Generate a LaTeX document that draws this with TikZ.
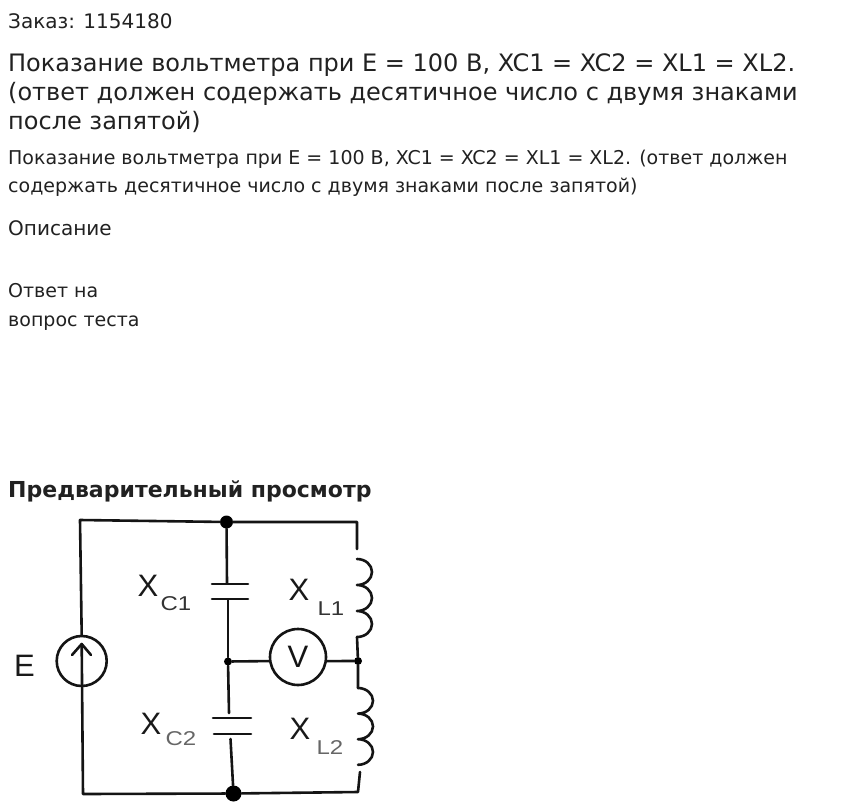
\documentclass[tikz,border=0pt]{standalone}
\usepackage{fontspec}
\setmainfont{DejaVu Sans}
\newfontfamily\schem{Liberation Sans}
\tikzset{
 txt/.style={anchor=base west,inner sep=0pt,text=black!87},
 body/.style={txt,font=\fontsize{19}{22}\selectfont},
 bodybig/.style={txt,font=\fontsize{20}{22}\selectfont},
 head/.style={txt,font=\fontsize{24}{28}\selectfont},
 wire/.style={line width=2.6pt,line cap=round,line join=round,black!92},
 bigdot/.style={circle,fill=black,inner sep=0pt,minimum size=13pt},
 hugedot/.style={circle,fill=black,inner sep=0pt,minimum size=16pt},
 smalldot/.style={circle,fill=black,inner sep=0pt,minimum size=8pt},
 lab/.style={inner sep=0pt,font=\schem\fontsize{31}{32}\selectfont,text=black!90},
 sublab/.style={inner sep=0pt,font=\schem\fontsize{20}{22}\selectfont,text=black!80},
 faintlab/.style={sublab,text=black!60},
}
\begin{document}
\begin{tikzpicture}[x=1pt,y=-1pt]
\useasboundingbox (0,0) rectangle (847,812);
\fill[white] (0,0) rectangle (847,812);
\node[bodybig] (t1) at (8,28) {Заказ: 1154180};
\node[head] (t2) at (8,71) {Показание вольтметра при E = 100 В, XC1 = XC2 = XL1 = XL2.};
\node[head] (t3) at (8,100) {(ответ должен содержать десятичное число с двумя знаками};
\node[head] (t4) at (8,129) {после запятой)};
\node[body] (t5) at (8,164) {Показание вольтметра при E = 100 В, XC1 = XC2 = XL1 = XL2. (ответ должен};
\node[body] (t6) at (8,192) {содержать десятичное число с двумя знаками после запятой)};
\node[bodybig] (t7) at (8,235) {Описание};
\node[body] (t8) at (8,297) {Ответ на};
\node[body] (t9) at (8,326) {вопрос теста};
\node[body,font=\bfseries\fontsize{22}{24}\selectfont] (t10) at (8,497) {Предварительный просмотр};
% junctions
\node[bigdot] (top) at (226.5,522) {};
\node[hugedot] (bot) at (233.5,793.5) {};
\node[smalldot] (mid) at (228,661.5) {};
\node[smalldot] (midr) at (358,661) {};
\node[draw,circle,line width=2.6pt,minimum size=50pt,inner sep=0pt,black!92] (src) at (81.7,661) {};
\node[draw,circle,line width=2.6pt,minimum size=56pt,inner sep=0pt,black!92,font=\schem\fontsize{31}{32}\selectfont] (vm) at (298,657) {V};
\coordinate (tl) at (80,520);
\coordinate (tr) at (357,522);
\coordinate (bl) at (83,794);
\coordinate (br) at (358,792);
\coordinate (l1top) at (357,559);
\coordinate (l1bot) at (357,637);
\coordinate (l2top) at (358,688);
\coordinate (l2bot) at (358,765);
\draw[wire] (src.north) -- (tl) -- (top) -- (tr) -- (357,549);
\draw[wire] (81.7,645) -- (bl) -- (bot) -- (br) -- (360,772);
% source arrow
\draw[wire] (72,655) -- (81.7,644) -- (91,655);
% caps
\draw[wire] (top) -- (227,583);
\draw[wire] (212,584) -- (248,584);
\draw[wire] (212,599) -- (248,599);
\draw[wire] (228,600) -- (mid);
\draw[wire] (mid) -- (229,713);
\draw[wire] (213,718) -- (251,718);
\draw[wire] (214,734) -- (251,734);
\draw[wire] (230.5,739) -- (bot);
% voltmeter
\draw[wire] (mid) -- (vm.188);
\draw[wire] (vm.-8) -- (midr);
% inductors
\draw[wire] (l1top) arc (-90:90:15 and 13) arc (-90:90:15 and 13) arc (-90:90:15 and 13);
\draw[wire] (l1bot) -- (midr) -- (l2top);
\draw[wire] (l2top) arc (-90:90:15 and 12.8) arc (-90:90:15 and 12.8) arc (-90:90:15 and 12.8);
% labels
\node[lab] (e) at (24.5,666) {E};
\node[lab] (xc1) at (148,586) {X};
\node[sublab] (c1) at (176,604) {\scalebox{1.2}[1]{C1}};
\node[lab] (xl1) at (299,590) {X};
\node[sublab] (l1) at (331,609) {\scalebox{1.2}[1]{L1}};
\node[lab] (xc2) at (151,724) {X};
\node[faintlab] (c2) at (181,739) {\scalebox{1.2}[1]{C2}};
\node[lab] (xl2) at (300,729) {X};
\node[faintlab] (l2) at (330,748) {\scalebox{1.2}[1]{L2}};
\end{tikzpicture}
\end{document}
